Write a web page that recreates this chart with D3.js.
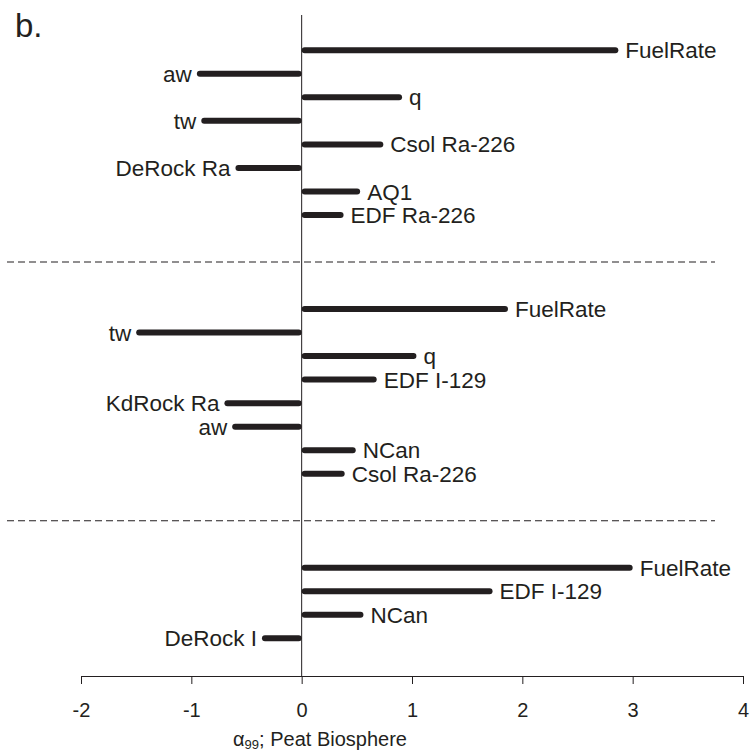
<!DOCTYPE html>
<html>
<head>
<meta charset="utf-8">
<script src="https://cdn.jsdelivr.net/npm/d3@7"></script>
<style>
  html, body { margin: 0; padding: 0; background: #fff; }
  svg { display: block; font-family: "Liberation Sans", Arial, Helvetica, sans-serif; }
</style>
</head>
<body>
<svg id="chart" width="750" height="751"></svg>
<script>
// Sensitivity (alpha_99) of the Peat Biosphere dose to each parameter,
// split into three time windows (top to bottom).
const group1Labels = ["FuelRate", "aw", "q", "tw", "Csol Ra-226", "DeRock Ra", "AQ1", "EDF Ra-226"];
const group1Values = [2.87, -0.95, 0.91, -0.91, 0.74, -0.60, 0.53, 0.38];

const group2Labels = ["FuelRate", "tw", "q", "EDF I-129", "KdRock Ra", "aw", "NCan", "Csol Ra-226"];
const group2Values = [1.87, -1.50, 1.04, 0.68, -0.70, -0.63, 0.49, 0.39];

const group3Labels = ["FuelRate", "EDF I-129", "NCan", "DeRock I"];
const group3Values = [3.00, 1.73, 0.56, -0.36];

const xTicks = [-2, -1, 0, 1, 2, 3, 4];

const ink = "#231f20";
const svg = d3.select("#chart");

// Row layout: consecutive rows inside a group, three empty slots between groups.
const groups = [
  { labels: group1Labels, values: group1Values },
  { labels: group2Labels, values: group2Values },
  { labels: group3Labels, values: group3Values }
];
const GAP = 3;
const rows = [];
const separators = [];
let idx = 0;
groups.forEach((g, gi) => {
  g.labels.forEach((lab, i) => rows.push({ label: lab, value: g.values[i], row: idx++ }));
  if (gi < groups.length - 1) {
    separators.push(idx - 1 + (GAP + 1) / 2);
    idx += GAP;
  }
});

const x = d3.scaleLinear().domain([-2, 4]).range([81, 743]);
const y = d3.scaleLinear().domain([-1.5, 26.6]).range([15, 676]);
const plotBottom = y(26.6);

// Group separators
svg.append("g").selectAll("line")
  .data(separators)
  .join("line")
  .attr("x1", 7).attr("x2", 715)
  .attr("y1", d => y(d)).attr("y2", d => y(d))
  .attr("stroke", ink)
  .attr("stroke-width", 1.1)
  .attr("stroke-dasharray", "7,4");

// Zero line
svg.append("line")
  .attr("x1", x(0)).attr("x2", x(0))
  .attr("y1", y(-1.5)).attr("y2", plotBottom)
  .attr("stroke", ink).attr("stroke-width", 1);

// Bars: thick rounded strokes running from zero to the value
const BAR_W = 6;
const cap = BAR_W / 2;
svg.append("g").selectAll("line")
  .data(rows)
  .join("line")
  .attr("x1", d => x(0) + Math.sign(d.value) * cap)
  .attr("x2", d => x(d.value) - Math.sign(d.value) * cap)
  .attr("y1", d => y(d.row)).attr("y2", d => y(d.row))
  .attr("stroke", ink)
  .attr("stroke-width", BAR_W)
  .attr("stroke-linecap", "round");

// Parameter labels at the bar ends
svg.append("g").selectAll("text")
  .data(rows)
  .join("text")
  .attr("x", d => d.value >= 0 ? x(d.value) + 7 : x(d.value) - 5)
  .attr("y", d => y(d.row))
  .attr("dy", "0.36em")
  .attr("text-anchor", d => d.value >= 0 ? "start" : "end")
  .attr("font-size", 22.5)
  .attr("fill", ink)
  .text(d => d.label);

// X axis
const axis = svg.append("g")
  .attr("transform", `translate(0,${plotBottom})`)
  .call(d3.axisBottom(x).tickValues(xTicks).tickFormat(d => String(d))
    .tickSize(8).tickSizeOuter(0).tickPadding(19));
axis.select(".domain").attr("stroke", ink).attr("stroke-width", 1);
axis.selectAll(".tick line").attr("stroke", ink).attr("stroke-width", 1);
axis.selectAll(".tick text")
  .attr("font-size", 20)
  .attr("font-family", "Liberation Sans, Arial, sans-serif")
  .attr("fill", ink);

// Axis title
const title = svg.append("text")
  .attr("x", 320).attr("y", 746)
  .attr("text-anchor", "middle")
  .attr("font-size", 20)
  .attr("fill", ink);
title.append("tspan").text("α");
title.append("tspan").attr("font-size", 13).attr("dy", 3).text("99");
title.append("tspan").attr("dy", -3).text("; Peat Biosphere");

// Panel letter
svg.append("text")
  .attr("x", 15).attr("y", 37)
  .attr("font-size", 33)
  .attr("fill", ink)
  .text("b.");
</script>
</body>
</html>
